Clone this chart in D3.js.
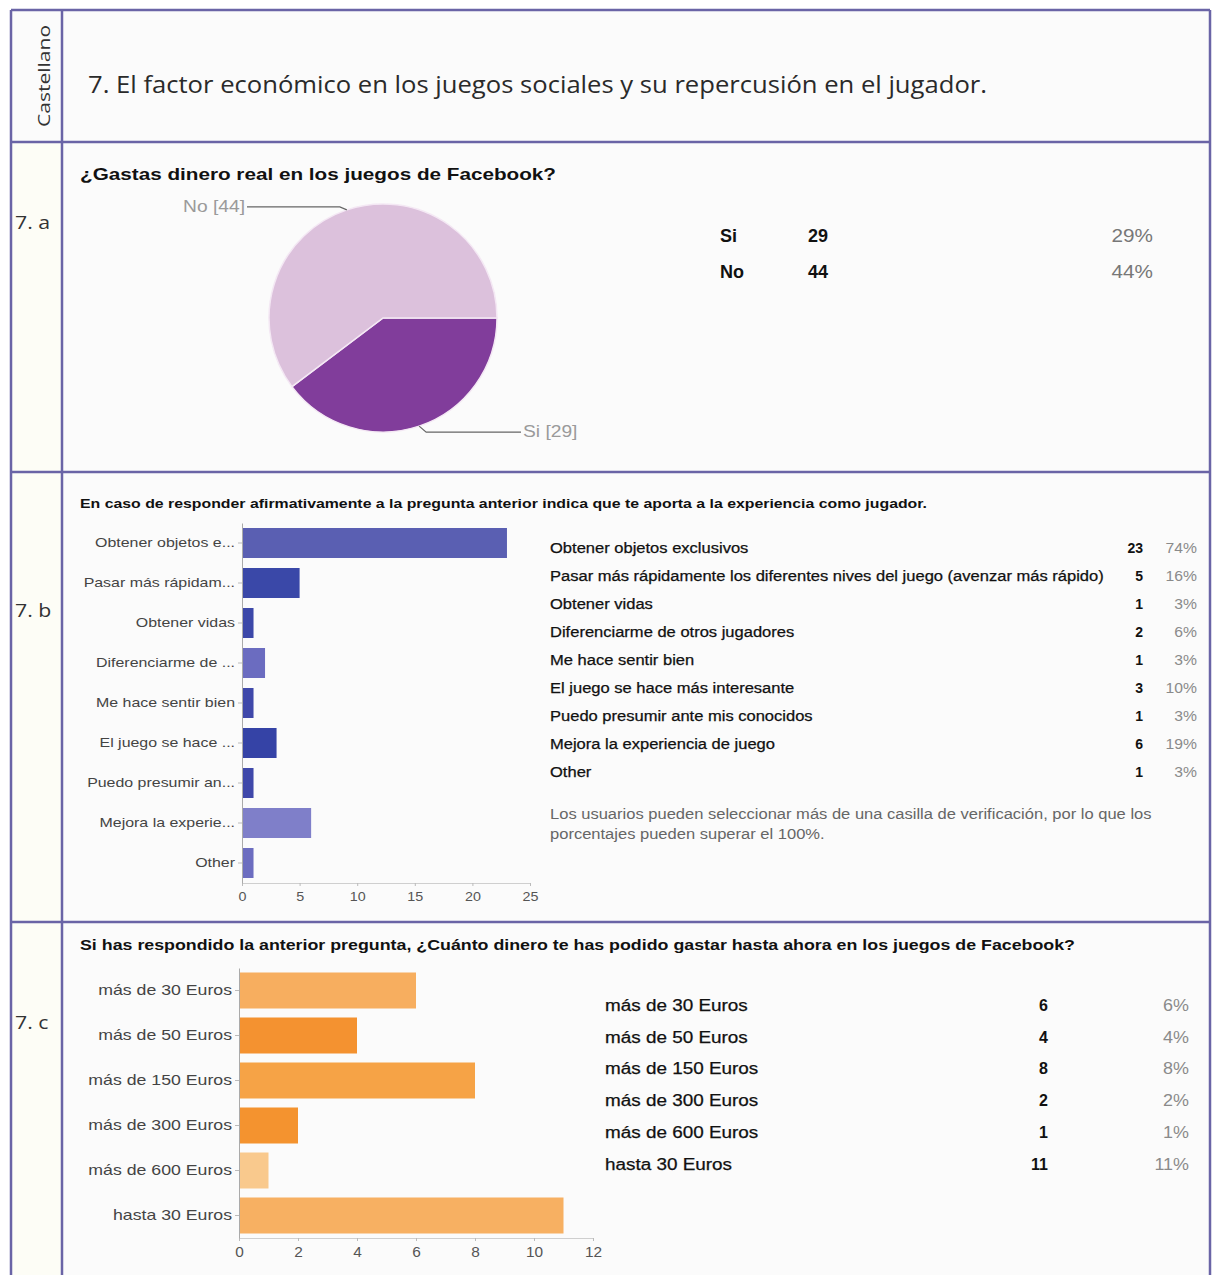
<!DOCTYPE html>
<html>
<head>
<meta charset="utf-8">
<script src="https://cdn.jsdelivr.net/npm/d3@7"></script>
<style>
    body { margin: 0; background: #ffffff; }
    svg text { font-family: "Liberation Sans", Arial, sans-serif; }
    svg text.cal { font-family: "Open Sans", Lato, sans-serif; }
</style>
</head>
<body>
<svg id="chart" width="1214" height="1275"></svg>
<script>
// ---- data ----
var pageTitle = "7. El factor económico en los juegos sociales y su repercusión en el jugador.";
var sideTitle = "Castellano";
var sectionLabels = ["7. a", "7. b", "7. c"];

var pieTitle = "¿Gastas dinero real en los juegos de Facebook?";
var pieCategories = ["Si", "No"];
var pieValues = [29, 44];
var piePercents = ["29%", "44%"];
var pieColors = ["#813d9b", "#dcc1dc"];

var benefitTitle = "En caso de responder afirmativamente a la pregunta anterior indica que te aporta a la experiencia como jugador.";
var benefitShort = ["Obtener objetos e...", "Pasar más rápidam...", "Obtener vidas", "Diferenciarme de ...",
    "Me hace sentir bien", "El juego se hace ...", "Puedo presumir an...", "Mejora la experie...", "Other"];
var benefitLabels = ["Obtener objetos exclusivos",
    "Pasar más rápidamente los diferentes nives del juego (avenzar más rápido)",
    "Obtener vidas", "Diferenciarme de otros jugadores", "Me hace sentir bien",
    "El juego se hace más interesante", "Puedo presumir ante mis conocidos",
    "Mejora la experiencia de juego", "Other"];
var benefitValues = [23, 5, 1, 2, 1, 3, 1, 6, 1];
var benefitPercents = ["74%", "16%", "3%", "6%", "3%", "10%", "3%", "19%", "3%"];
var benefitColors = ["#5a5fb2", "#3a48a8", "#3c48a9", "#6b6cc0", "#3f48aa", "#3543a6", "#3f48aa", "#7f7fc9", "#6c6dc0"];
var benefitTicks = [0, 5, 10, 15, 20, 25];
var benefitNote = ["Los usuarios pueden seleccionar más de una casilla de verificación, por lo que los",
    "porcentajes pueden superar el 100%."];

var spendTitle = "Si has respondido la anterior pregunta, ¿Cuánto dinero te has podido gastar hasta ahora en los juegos de Facebook?";
var spendLabels = ["más de 30 Euros", "más de 50 Euros", "más de 150 Euros", "más de 300 Euros", "más de 600 Euros", "hasta 30 Euros"];
var spendValues = [6, 4, 8, 2, 1, 11];
var spendPercents = ["6%", "4%", "8%", "2%", "1%", "11%"];
var spendColors = ["#f7ae5f", "#f49230", "#f6a346", "#f4932f", "#f9c98d", "#f7b062"];
var spendTicks = [0, 2, 4, 6, 8, 10, 12];

var BORDER = "#6a64a6";
// the screenshot is stretched sideways; text is widened by this much
var STRETCH = 1.18;
var svg = d3.select("#chart");

drawFrame();
drawPie();
drawBars({
    labels: benefitShort, values: benefitValues, colors: benefitColors, ticks: benefitTicks,
    xRange: [242, 530], yRange: [523, 883], padding: 0.25, labelSize: 13.5, tickSize: 13
});
drawTable({
    labels: benefitLabels, values: benefitValues, percents: benefitPercents,
    x: 550, countX: 1143, pctX: 1197, y0: 553, step: 28, size: 14
});
drawBars({
    labels: spendLabels, values: spendValues, colors: spendColors, ticks: spendTicks,
    xRange: [239, 593], yRange: [968, 1238], padding: 0.2, labelSize: 15, tickSize: 14
});
drawTable({
    labels: spendLabels, values: spendValues, percents: spendPercents,
    x: 605, countX: 1048, pctX: 1189, y0: 1011, step: 31.7, size: 16
});

/**
 * Widens text elements by a factor, keeping their anchor.
 */
function widen(sel, k) {
    sel.each(function() {
        var w = this.getComputedTextLength();
        d3.select(this).attr("textLength", w * k).attr("lengthAdjust", "spacingAndGlyphs");
    });
    return sel;
}

/**
 * Table frame, header texts and row labels.
 */
function drawFrame() {
    var rows = [10, 142, 472, 922, 1290];
    svg.append("rect").attr("x", 11).attr("y", 10).attr("width", 1199).attr("height", 1280).attr("fill", "#fbfbfb");
    svg.append("rect").attr("x", 11).attr("y", 142).attr("width", 51).attr("height", 1148).attr("fill", "#fdfdf6");

    var g = svg.append("g").attr("stroke", BORDER).attr("stroke-width", 2.5);
    g.append("line").attr("x1", 11).attr("x2", 11).attr("y1", 10).attr("y2", 1290);
    g.append("line").attr("x1", 62).attr("x2", 62).attr("y1", 10).attr("y2", 1290);
    g.append("line").attr("x1", 1210).attr("x2", 1210).attr("y1", 10).attr("y2", 1290);
    rows.slice(0, 4).forEach(function(y) {
        g.append("line").attr("x1", 11).attr("x2", 1210).attr("y1", y).attr("y2", y);
    });

    svg.append("text").attr("class", "cal")
        .attr("transform", "translate(50,76) rotate(-90)")
        .attr("text-anchor", "middle").attr("font-size", 17).attr("fill", "#333")
        .attr("textLength", 102).attr("lengthAdjust", "spacingAndGlyphs")
        .text(sideTitle);
    svg.append("text").attr("class", "cal")
        .attr("x", 88).attr("y", 93).attr("font-size", 23).attr("fill", "#2a2a2a")
        .attr("textLength", 899).attr("lengthAdjust", "spacingAndGlyphs")
        .text(pageTitle);

    var labelY = [229, 617, 1029];
    sectionLabels.forEach(function(d, i) {
        widen(svg.append("text").attr("class", "cal")
            .attr("x", 15).attr("y", labelY[i]).attr("font-size", 19).attr("fill", "#333")
            .text(d), 1.12);
    });

    var titles = [[pieTitle, 180, 17, 476], [benefitTitle, 508, 13, 847], [spendTitle, 950, 15, 995]];
    titles.forEach(function(t) {
        svg.append("text")
            .attr("x", 80).attr("y", t[1]).attr("font-size", t[2]).attr("font-weight", "bold").attr("fill", "#111")
            .attr("textLength", t[3]).attr("lengthAdjust", "spacingAndGlyphs")
            .text(t[0]);
    });
}

/**
 * Pie chart of question 7.a, with its leader labels and the small table.
 */
function drawPie() {
    var cx = 383, cy = 318, r = 114;
    var pie = d3.pie().sort(null).startAngle(Math.PI / 2).endAngle(Math.PI / 2 + 2 * Math.PI);
    var arc = d3.arc().innerRadius(0).outerRadius(r);
    var arcs = pie(pieValues);

    var g = svg.append("g").attr("transform", "translate(" + cx + "," + cy + ")");
    g.selectAll("path").data(arcs).enter().append("path")
        .attr("d", arc)
        .attr("fill", function(d, i) { return pieColors[i]; })
        .attr("stroke", "#f4e8f4").attr("stroke-width", 1.5);

    // leader lines go out from the middle of each slice
    arcs.forEach(function(d, i) {
        var a = (d.startAngle + d.endAngle) / 2;
        var ex = r * Math.sin(a), ey = -r * Math.cos(a);
        var side = ex < 0 ? -1 : 1;
        var ly = ey + (ey < 0 ? -3 : 6);
        var endX = side < 0 ? -136 : 138;
        g.append("polyline")
            .attr("points", [[ex, ey], [ex + side * 7, ly], [endX, ly]].map(String).join(" "))
            .attr("fill", "none").attr("stroke", "#666").attr("stroke-width", 1.2);
        widen(g.append("text")
            .attr("x", endX + side * 2).attr("y", ly + 5)
            .attr("text-anchor", side < 0 ? "end" : "start")
            .attr("font-size", 16).attr("fill", "#9a9a9a")
            .text(pieCategories[i] + " [" + pieValues[i] + "]"), 1.2);
    });

    pieCategories.forEach(function(c, i) {
        var y = 242 + i * 36;
        svg.append("text").attr("x", 720).attr("y", y).attr("font-size", 18).attr("font-weight", "bold").attr("fill", "#111").text(c);
        svg.append("text").attr("x", 808).attr("y", y).attr("font-size", 18).attr("font-weight", "bold").attr("fill", "#111").text(pieValues[i]);
        widen(svg.append("text").attr("x", 1153).attr("y", y).attr("text-anchor", "end").attr("font-size", 18)
            .attr("fill", "#777").text(piePercents[i]), 1.15);
    });
}

/**
 * Horizontal bar chart in the Google Forms style.
 */
function drawBars(o) {
    var x = d3.scaleLinear().domain([o.ticks[0], o.ticks[o.ticks.length - 1]]).range(o.xRange);
    var y = d3.scaleBand().domain(o.labels).range(o.yRange).paddingInner(o.padding).paddingOuter(o.padding / 2);
    var g = svg.append("g");

    g.selectAll("rect.bar").data(o.values).enter().append("rect")
        .attr("class", "bar")
        .attr("x", x(0))
        .attr("y", function(d, i) { return y(o.labels[i]); })
        .attr("width", function(d) { return x(d) - x(0); })
        .attr("height", y.bandwidth())
        .attr("fill", function(d, i) { return o.colors[i]; });

    var bottom = g.append("g")
        .attr("transform", "translate(0," + o.yRange[1] + ")")
        .call(d3.axisBottom(x).tickValues(o.ticks).tickSize(3).tickPadding(6));
    bottom.select(".domain").attr("stroke", "#cfcfcf");
    bottom.selectAll(".tick line").attr("stroke", "#bbb");
    widen(bottom.selectAll(".tick text").attr("font-size", o.tickSize).attr("fill", "#555")
        .attr("font-family", "Liberation Sans, Arial, sans-serif"), 1.1);

    var left = g.append("g")
        .attr("transform", "translate(" + x(0) + ",0)")
        .call(d3.axisLeft(y).tickSize(4).tickSizeOuter(0).tickPadding(3));
    left.select(".domain").attr("stroke", "#aaa");
    left.selectAll(".tick line").attr("stroke", "#bbb");
    widen(left.selectAll(".tick text").attr("font-size", o.labelSize).attr("fill", "#444")
        .attr("font-family", "Liberation Sans, Arial, sans-serif"), STRETCH);
}

/**
 * Summary table: answer, count (bold) and percentage (grey).
 */
function drawTable(o) {
    var g = svg.append("g").attr("font-size", o.size);
    o.labels.forEach(function(d, i) {
        var y = o.y0 + i * o.step;
        widen(g.append("text").attr("x", o.x).attr("y", y).attr("fill", "#111")
            .attr("stroke", "#111").attr("stroke-width", 0.25).text(d), STRETCH);
        g.append("text").attr("x", o.countX).attr("y", y).attr("text-anchor", "end")
            .attr("font-weight", "bold").attr("fill", "#111").text(o.values[i]);
        widen(g.append("text").attr("x", o.pctX).attr("y", y).attr("text-anchor", "end")
            .attr("fill", "#8a8a8a").text(o.percents[i]), 1.12);
    });
    if (o.labels === benefitLabels) {
        benefitNote.forEach(function(line, i) {
            widen(g.append("text").attr("x", o.x).attr("y", 819 + i * 20).attr("font-size", 14)
                .attr("fill", "#666").text(line), STRETCH);
        });
    }
}
</script>
</body>
</html>
